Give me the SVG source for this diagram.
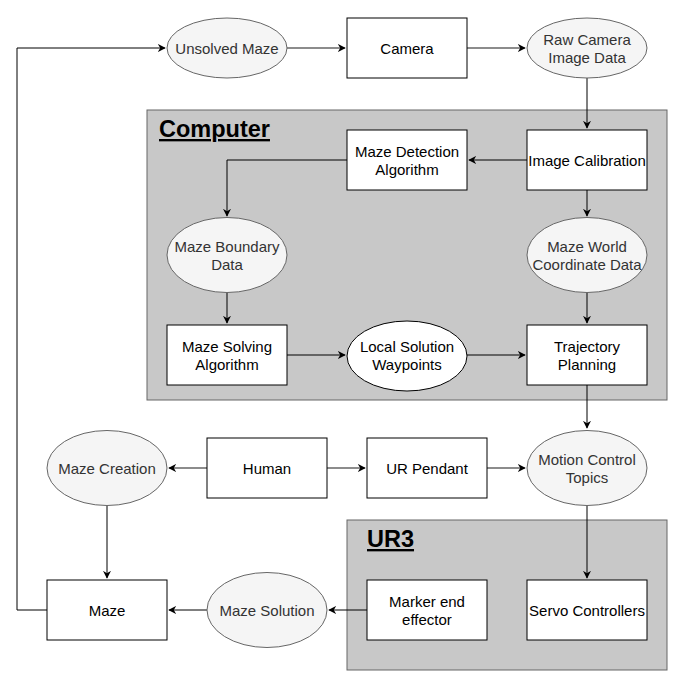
<svg xmlns="http://www.w3.org/2000/svg" width="678" height="681" viewBox="0 0 678 681">
<style>
text{font-family:"Liberation Sans",Arial,sans-serif;font-size:15px;text-anchor:middle;fill:#000}
.box{fill:#fff;stroke:#000;stroke-width:1}
.gel{fill:#f5f5f5;stroke:#666;stroke-width:1}
.g text{fill:#333}
.cont{fill:#c8c8c8;stroke:#666;stroke-width:1}
.title{font-size:23.5px;font-weight:bold;text-anchor:start;text-decoration:underline}
.e{fill:none;stroke:#000;stroke-width:1}
.eg{fill:none;stroke:#666;stroke-width:1.5}
</style>
<defs>
<marker id="a" viewBox="0 0 10 10" refX="9" refY="5" markerWidth="8" markerHeight="8" markerUnits="userSpaceOnUse" orient="auto">
<path d="M0,0 L10,5 L0,10 L3,5 Z" fill="#000"/>
</marker>
</defs>
<rect fill="#fff" width="678" height="681"/>
<g id="computer"><rect class="cont" x="147" y="110" width="520" height="290"/><text class="title" x="159" y="137">Computer</text></g>
<g id="ur3"><rect class="cont" x="347" y="520" width="320" height="150"/><text class="title" x="367" y="547">UR3</text></g>
<g id="connectors">
<path class="eg" d="M287,48 H345" marker-end="url(#a)"/>
<path class="eg" d="M467,48 H525" marker-end="url(#a)"/>
<path class="e" d="M587,78 V128" marker-end="url(#a)"/>
<path class="e" d="M527,160 H469" marker-end="url(#a)"/>
<path class="e" d="M347,160 H227 V216" marker-end="url(#a)"/>
<path class="e" d="M587,190 V216" marker-end="url(#a)"/>
<path class="e" d="M227,293 V323" marker-end="url(#a)"/>
<path class="e" d="M587,293 V323" marker-end="url(#a)"/>
<path class="e" d="M287,355 H345" marker-end="url(#a)"/>
<path class="e" d="M467,355 H525" marker-end="url(#a)"/>
<path class="e" d="M587,385 V428" marker-end="url(#a)"/>
<path class="eg" d="M207,468 H169" marker-end="url(#a)"/>
<path class="eg" d="M327,468 H365" marker-end="url(#a)"/>
<path class="eg" d="M487,468 H525" marker-end="url(#a)"/>
<path class="e" d="M587,506 V578" marker-end="url(#a)"/>
<path class="e" d="M107,506 V578" marker-end="url(#a)"/>
<path class="e" d="M367,610 H329" marker-end="url(#a)"/>
<path class="e" d="M207,610 H169" marker-end="url(#a)"/>
<path class="e" d="M47,610 H17 V48 H165" marker-end="url(#a)"/>
</g>
<g id="unsolved" class="g"><ellipse class="gel" cx="227" cy="48" rx="60" ry="30"/><text x="227" y="53.5">Unsolved Maze</text></g>
<g id="camera"><rect class="box" x="347" y="18" width="120" height="60"/><text x="407" y="53.5">Camera</text></g>
<g id="raw" class="g"><ellipse class="gel" cx="587" cy="48" rx="60" ry="30"/><text x="587" y="44.5">Raw Camera</text><text x="587" y="62.5">Image Data</text></g>
<g id="detect"><rect class="box" x="347" y="130" width="120" height="60"/><text x="407" y="156.5">Maze Detection</text><text x="407" y="174.5">Algorithm</text></g>
<g id="calib"><rect class="box" x="527" y="130" width="120" height="60"/><text x="587" y="165.5">Image Calibration</text></g>
<g id="boundary" class="g"><ellipse class="gel" cx="227" cy="255" rx="60" ry="37.5"/><text x="227" y="251.5">Maze Boundary</text><text x="227" y="269.5">Data</text></g>
<g id="world" class="g"><ellipse class="gel" cx="587" cy="255" rx="60" ry="37.5"/><text x="587" y="251.5">Maze World</text><text x="587" y="269.5">Coordinate Data</text></g>
<g id="solving"><rect class="box" x="167" y="325" width="120" height="60"/><text x="227" y="351.5">Maze Solving</text><text x="227" y="369.5">Algorithm</text></g>
<g id="waypoints"><ellipse class="box" cx="407" cy="356" rx="60" ry="35"/><text x="407" y="351.5">Local Solution</text><text x="407" y="369.5">Waypoints</text></g>
<g id="trajectory"><rect class="box" x="527" y="325" width="120" height="60"/><text x="587" y="351.5">Trajectory</text><text x="587" y="369.5">Planning</text></g>
<g id="creation" class="g"><ellipse class="gel" cx="107" cy="468" rx="60" ry="37.5"/><text x="107" y="473.5">Maze Creation</text></g>
<g id="human"><rect class="box" x="207" y="438" width="120" height="60"/><text x="267" y="473.5">Human</text></g>
<g id="pendant"><rect class="box" x="367" y="438" width="120" height="60"/><text x="427" y="473.5">UR Pendant</text></g>
<g id="motion" class="g"><ellipse class="gel" cx="587" cy="468" rx="60" ry="37.5"/><text x="587" y="464.5">Motion Control</text><text x="587" y="482.5">Topics</text></g>
<g id="marker"><rect class="box" x="367" y="580" width="120" height="60"/><text x="427" y="606.5">Marker end</text><text x="427" y="624.5">effector</text></g>
<g id="servo"><rect class="box" x="527" y="580" width="120" height="60"/><text x="587" y="615.5">Servo Controllers</text></g>
<g id="solution" class="g"><ellipse class="gel" cx="267" cy="610" rx="60" ry="37.5"/><text x="267" y="615.5">Maze Solution</text></g>
<g id="maze"><rect class="box" x="47" y="580" width="120" height="60"/><text x="107" y="615.5">Maze</text></g>
</svg>
